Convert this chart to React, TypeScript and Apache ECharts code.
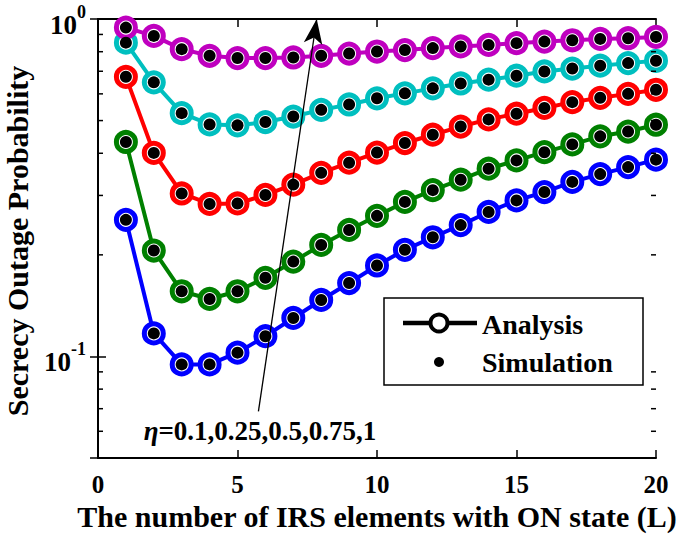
import React, { useEffect, useRef } from "react";
import * as echarts from "echarts";

const L = [1, 2, 3, 4, 5, 6, 7, 8, 9, 10, 11, 12, 13, 14, 15, 16, 17, 18, 19, 20];
const etaLabels = ["0.1", "0.25", "0.5", "0.75", "1"];
const seriesColors = ["#0000ff", "#008000", "#ff0000", "#00bfbf", "#bf00bf"];

const sopEta010 = [0.254, 0.117, 0.0947, 0.0947, 0.1026, 0.1148, 0.13, 0.147, 0.165, 0.186, 0.207, 0.2255, 0.245, 0.268, 0.29, 0.307, 0.329, 0.347, 0.364, 0.383];
const sopEta025 = [0.432, 0.206, 0.156, 0.148, 0.156, 0.171, 0.191, 0.214, 0.237, 0.261, 0.287, 0.311, 0.334, 0.36, 0.381, 0.403, 0.425, 0.449, 0.464, 0.486];
const sopEta050 = [0.674, 0.401, 0.304, 0.283, 0.284, 0.301, 0.323, 0.35, 0.375, 0.402, 0.429, 0.454, 0.48, 0.504, 0.524, 0.545, 0.567, 0.584, 0.6, 0.617];
const sopEta075 = [0.851, 0.649, 0.526, 0.487, 0.484, 0.495, 0.514, 0.538, 0.558, 0.582, 0.602, 0.623, 0.644, 0.661, 0.679, 0.699, 0.713, 0.727, 0.74, 0.752];
const sopEta100 = [0.943, 0.891, 0.814, 0.778, 0.766, 0.766, 0.769, 0.778, 0.79, 0.801, 0.809, 0.82, 0.829, 0.838, 0.848, 0.857, 0.865, 0.873, 0.877, 0.885];

const analysis = [sopEta010, sopEta025, sopEta050, sopEta075, sopEta100];
const simulation = [sopEta010, sopEta025, sopEta050, sopEta075, sopEta100];

const minorTickValues = [0.06, 0.07, 0.08, 0.09, 0.2, 0.3, 0.4, 0.5, 0.6, 0.7, 0.8, 0.9];
const arrowFrom = [5.75, 0.0687];
const arrowTo = [7.84, 1];

const FONT = "'Liberation Serif', 'Times New Roman', serif";

export default function App() {
  const ref = useRef<HTMLDivElement>(null);
  useEffect(() => {
    if (!ref.current) return;
    const chart = echarts.init(ref.current, null, { renderer: "svg" });
    const grid = { left: 98, right: 29, top: 19, bottom: 82 };

    const analysisSeries = analysis.map((vals, i) => ({
      name: "η=" + etaLabels[i],
      type: "line",
      data: L.map((x, j) => [x, vals[j]]),
      symbol: "circle",
      symbolSize: 19,
      lineStyle: { color: seriesColors[i], width: 4 },
      itemStyle: { color: "#fff", borderColor: seriesColors[i], borderWidth: 5, opacity: 1 },
      z: 2,
      silent: true,
      ...(i === 4
        ? {
            markLine: {
              silent: true,
              symbol: ["none", "arrow"],
              symbolSize: [0, 18],
              label: { show: false },
              lineStyle: { color: "#000", width: 1.3, type: "solid" },
              data: [[{ coord: arrowFrom }, { coord: arrowTo, symbolSize: [14, 25] }]],
              z: 10,
            },
          }
        : {}),
    }));

    const simSeries = simulation.map((vals, i) => ({
      name: "sim" + etaLabels[i],
      type: "scatter",
      data: L.map((x, j) => [x, vals[j]]),
      symbol: "circle",
      symbolSize: 12,
      itemStyle: { color: "#000", opacity: 1 },
      z: 3,
      silent: true,
    }));

    const logLabel = (v: number) => {
      const e = Math.round(Math.log10(v));
      if (Math.abs(Math.log10(v) - e) > 1e-6) return "";
      return "{b|10}{s|" + e + "}";
    };

    const axisBase = {
      axisLine: { lineStyle: { color: "#000", width: 2 } },
      axisTick: { inside: true, length: 8, lineStyle: { color: "#000", width: 1.5 } },
      splitLine: { show: false },
    };

    const option: any = {
      animation: false,
      backgroundColor: "#fff",
      grid,
      xAxis: [
        {
          type: "value",
          min: 0,
          max: 20,
          interval: 5,
          position: "bottom",
          ...axisBase,
          axisLabel: { color: "#000", fontSize: 25, fontWeight: "bold", fontFamily: FONT, margin: 14 },
          name: "The number of IRS elements with ON state (L)",
          nameLocation: "middle",
          nameGap: 42,
          nameTextStyle: { color: "#000", fontSize: 30, fontWeight: "bold", fontFamily: FONT },
        },
        {
          type: "value",
          min: 0,
          max: 20,
          interval: 5,
          position: "top",
          ...axisBase,
          axisLabel: { show: false },
        },
      ],
      yAxis: [
        {
          type: "log",
          logBase: 10,
          min: 0.05,
          max: 1,
          position: "left",
          ...axisBase,
          axisLabel: {
            color: "#000",
            margin: 12,
            fontSize: 26,
            fontWeight: "bold",
            fontFamily: FONT,
            formatter: logLabel,
            rich: {
              b: { fontSize: 27, fontWeight: "bold", fontFamily: FONT, color: "#000", padding: [12, 0, 0, 0] },
              s: { fontSize: 18, fontWeight: "bold", fontFamily: FONT, color: "#000", padding: [0, 0, 14, 0] },
            },
          },
        },
        {
          type: "log",
          logBase: 10,
          min: 0.05,
          max: 1,
          position: "right",
          ...axisBase,
          axisLabel: { show: false },
        },
      ],
      series: [...analysisSeries, ...simSeries],
      graphic: [
        {
          type: "text",
          x: 17,
          y: 241,
          rotation: Math.PI / 2,
          style: {
            text: "Secrecy Outage Probability",
            fontSize: 30,
            fontWeight: "bold",
            fontFamily: FONT,
            fill: "#000",
            align: "center",
            verticalAlign: "middle",
          },
        },
        {
          type: "text",
          x: 260,
          y: 431,
          z: 20,
          style: {
            text: "{e|η}=0.1,0.25,0.5,0.75,1",
            fontSize: 27,
            fontWeight: "bold",
            fontFamily: FONT,
            fill: "#000",
            align: "center",
            verticalAlign: "middle",
            rich: { e: { fontStyle: "italic", fontWeight: "bold", fontSize: 27, fontFamily: FONT, fill: "#000" } },
          },
        },
        {
          type: "group",
          z: 30,
          children: [
            { type: "rect", shape: { x: 384, y: 298, width: 259, height: 87 }, style: { fill: "#fff", stroke: "#000", lineWidth: 1.5 } },
            { type: "line", shape: { x1: 403, y1: 323, x2: 477, y2: 323 }, style: { stroke: "#000", lineWidth: 4.5 } },
            { type: "circle", shape: { cx: 439, cy: 323, r: 8.5 }, style: { fill: "#fff", stroke: "#000", lineWidth: 4 } },
            { type: "circle", shape: { cx: 439, cy: 362, r: 5 }, style: { fill: "#000" } },
            {
              type: "text",
              x: 482,
              y: 324,
              style: { text: "Analysis", fontSize: 28, fontWeight: "bold", fontFamily: FONT, fill: "#000", verticalAlign: "middle" },
            },
            {
              type: "text",
              x: 482,
              y: 362,
              style: { text: "Simulation", fontSize: 28, fontWeight: "bold", fontFamily: FONT, fill: "#000", verticalAlign: "middle" },
            },
          ],
        },
      ],
    };
    chart.setOption(option);

    // minor log ticks on left and right axes, placed through the chart's own scales
    const minorLines: any[] = [];
    minorTickValues.forEach((v) => {
      const pl = chart.convertToPixel({ gridIndex: 0 } as any, [0, v]) as number[];
      const pr = chart.convertToPixel({ gridIndex: 0 } as any, [20, v]) as number[];
      minorLines.push({ type: "line", z: 40, shape: { x1: pl[0], y1: pl[1], x2: pl[0] + 5, y2: pl[1] }, style: { stroke: "#000", lineWidth: 1.5 } });
      minorLines.push({ type: "line", z: 40, shape: { x1: pr[0], y1: pr[1], x2: pr[0] - 5, y2: pr[1] }, style: { stroke: "#000", lineWidth: 1.5 } });
    });
    chart.setOption({ graphic: [...option.graphic, { type: "group", z: 40, children: minorLines }] });

    return () => chart.dispose();
  }, []);
  return <div ref={ref} style={{ width: 685, height: 540, position: "fixed", left: 0, top: 0 }} />;
}
